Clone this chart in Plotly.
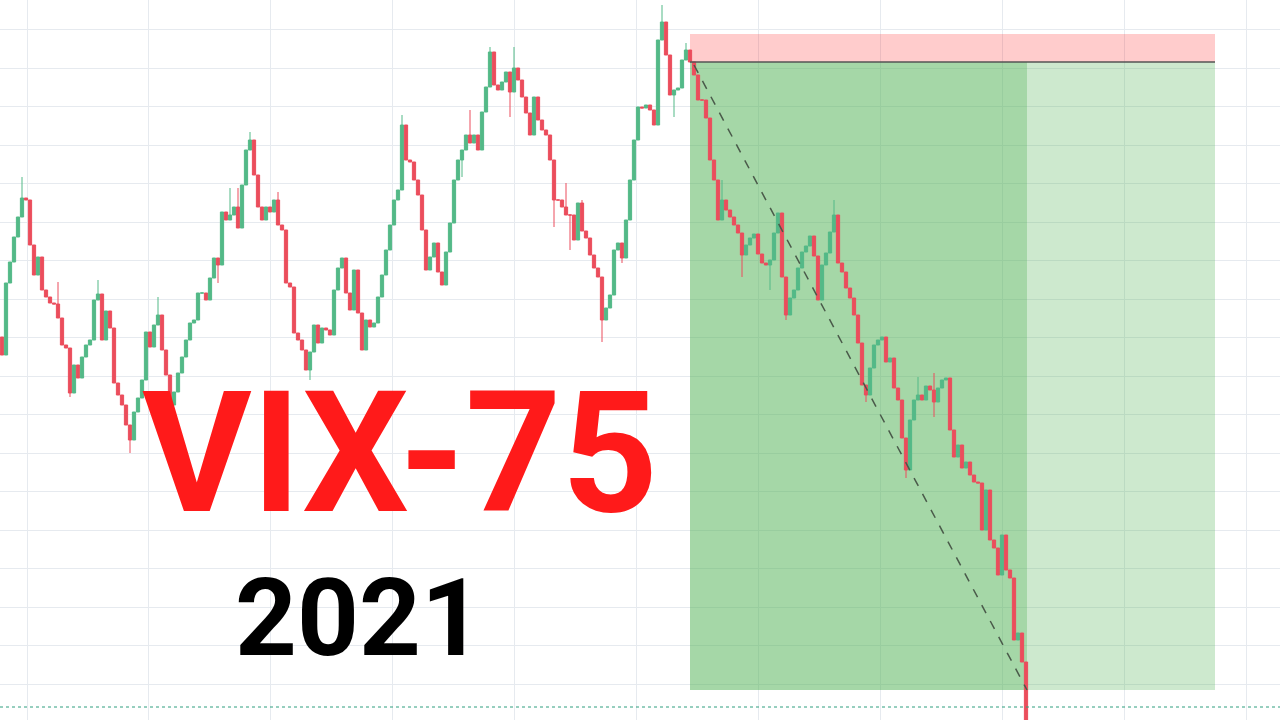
import plotly.graph_objects as go

# ---- data (price units; candle index on x) ----
closes = [
    365, 437, 458, 483, 503, 522, 520, 475, 445, 463,
    430, 423, 417, 416, 402, 375, 372, 327, 355, 342,
    363, 375, 380, 420, 426, 380, 409, 392, 337, 325,
    315, 295, 280, 308, 322, 340, 388, 373, 395, 405,
    370, 345, 315, 328, 347, 363, 380, 397, 400, 427,
    427, 420, 442, 462, 455, 508, 500, 505, 513, 492,
    535, 570, 580, 545, 513, 500, 513, 508, 520, 495,
    490, 437, 433, 387, 380, 370, 350, 368, 395, 377,
    392, 390, 385, 430, 452, 462, 427, 410, 450, 407,
    370, 400, 393, 397, 423, 445, 470, 495, 520, 530,
    595, 560, 558, 540, 525, 490, 450, 463, 477, 448,
    435, 468, 497, 540, 560, 570, 585, 577, 585, 570,
    608, 633, 668, 635, 630, 638, 648, 628, 652, 640,
    623, 607, 585, 623, 600, 590, 585, 560, 520, 520,
    513, 505, 505, 480, 517, 489, 482, 465, 452, 443,
    400, 412, 425, 470, 477, 462, 500, 540, 580, 613,
    612, 615, 610, 595, 680, 698, 665, 625, 630, 632,
    660, 670, 658, 645, 620, 620, 602, 560, 540, 500,
    520, 510, 503, 495, 487, 465, 475, 482, 486, 466,
    457, 455, 460, 487, 507, 443, 405, 422, 430, 452,
    468, 474, 484, 464, 420, 455, 467, 488, 505, 457,
    448, 432, 422, 405, 377, 335, 325, 352, 375, 380,
    383, 358, 362, 332, 320, 282, 250, 300, 320, 325,
    320, 334, 330, 318, 332, 340, 342, 290, 263, 275,
    252, 258, 245, 238, 237, 190, 230, 180, 172, 145,
    185, 150, 142, 80, 87, 58, -10,
]
first_open = 383
high_wicks = {5: 543, 14: 438, 24: 440, 39: 423, 57: 532, 59: 532, 62: 588,
              69: 528, 100: 605, 117: 610, 122: 673, 128: 673, 141: 537,
              145: 520, 165: 715, 171: 677, 180: 540, 208: 520, 229: 343,
              233: 347}
low_wicks = {17: 323, 32: 267, 54: 437, 77: 340, 115: 543, 127: 603,
             138: 493, 142: 470, 150: 378, 155: 457, 168: 603, 185: 443,
             192: 430, 196: 400, 216: 318, 226: 242, 233: 303}

# trade box levels
entry_level = 658
stop_level = 686
target_level = 30
last_price = 13
box_start, box_mid, box_end = 172, 256.25, 303.25

title_text = "VIX-75"
year_text = "2021"

# ---- build OHLC table ----
opens = [first_open] + closes[:-1]
xs = list(range(len(closes)))
highs = [high_wicks.get(i, max(o, c)) for i, (o, c) in enumerate(zip(opens, closes))]
lows = [low_wicks.get(i, min(o, c)) for i, (o, c) in enumerate(zip(opens, closes))]

UP = "#53B987"
DOWN = "#EB4D5C"

fig = go.Figure(go.Candlestick(
    x=xs, open=opens, high=highs, low=lows, close=closes,
    increasing=dict(line=dict(color=UP, width=1), fillcolor=UP),
    decreasing=dict(line=dict(color=DOWN, width=1), fillcolor=DOWN),
    hoverinfo="skip", showlegend=False,
))

shapes = [
    dict(type="rect", xref="x", yref="y", x0=box_start, x1=box_end, y0=entry_level, y1=stop_level,
         fillcolor="rgba(255,0,0,0.2)", line=dict(width=0), layer="between"),
    dict(type="rect", xref="x", yref="y", x0=box_start, x1=box_mid, y0=target_level, y1=entry_level,
         fillcolor="rgba(76,175,80,0.5)", line=dict(width=0), layer="between"),
    dict(type="rect", xref="x", yref="y", x0=box_mid, x1=box_end, y0=target_level, y1=entry_level,
         fillcolor="rgba(76,175,80,0.28)", line=dict(width=0), layer="between"),
    dict(type="line", xref="x", yref="y", x0=box_start, x1=box_end, y0=entry_level, y1=entry_level,
         line=dict(color="#555555", width=1.5)),
    dict(type="line", xref="x", yref="y", x0=box_start + 1, x1=box_mid, y0=entry_level - 3, y1=target_level,
         line=dict(color="#4a5a4a", width=1.5, dash="dash")),
    dict(type="line", xref="paper", yref="y", x0=0, x1=1, y0=last_price, y1=last_price,
         line=dict(color="#2e9e7e", width=1, dash="dot")),
]

fig.update_layout(
    width=1280, height=720,
    margin=dict(l=0, r=0, t=0, b=0),
    paper_bgcolor="white", plot_bgcolor="white",
    shapes=shapes,
    xaxis=dict(range=[-0.5, 319.5], rangeslider=dict(visible=False),
               tickmode="linear", tick0=6.25, dtick=30.475,
               showticklabels=False, showgrid=True, gridcolor="#E6EAEF", gridwidth=1,
               zeroline=False, showline=False, fixedrange=True),
    yaxis=dict(range=[0, 720], tickmode="linear", tick0=36, dtick=38.5,
               showticklabels=False, showgrid=True, gridcolor="#E6EAEF", gridwidth=1,
               zeroline=False, showline=False, fixedrange=True),
    annotations=[
        dict(text=title_text, xref="paper", yref="paper", x=0.3125, y=0.2319,
             xanchor="center", yanchor="bottom", showarrow=False, borderpad=0,
             font=dict(family="Roboto", size=168, color="#FF1A1A", weight="bold")),
        dict(text=year_text, xref="paper", yref="paper", x=0.2805, y=0.2300,
             xanchor="center", yanchor="top", showarrow=False, borderpad=0,
             font=dict(family="Roboto", size=108, color="#000000", weight="bold")),
    ],
    hovermode=False,
    boxgap=0.1, boxgroupgap=0.1,
)

fig.write_html("out.html", config=dict(displayModeBar=False, staticPlot=True),
               post_script="document.body.style.margin='0';document.body.style.overflow='hidden';")
